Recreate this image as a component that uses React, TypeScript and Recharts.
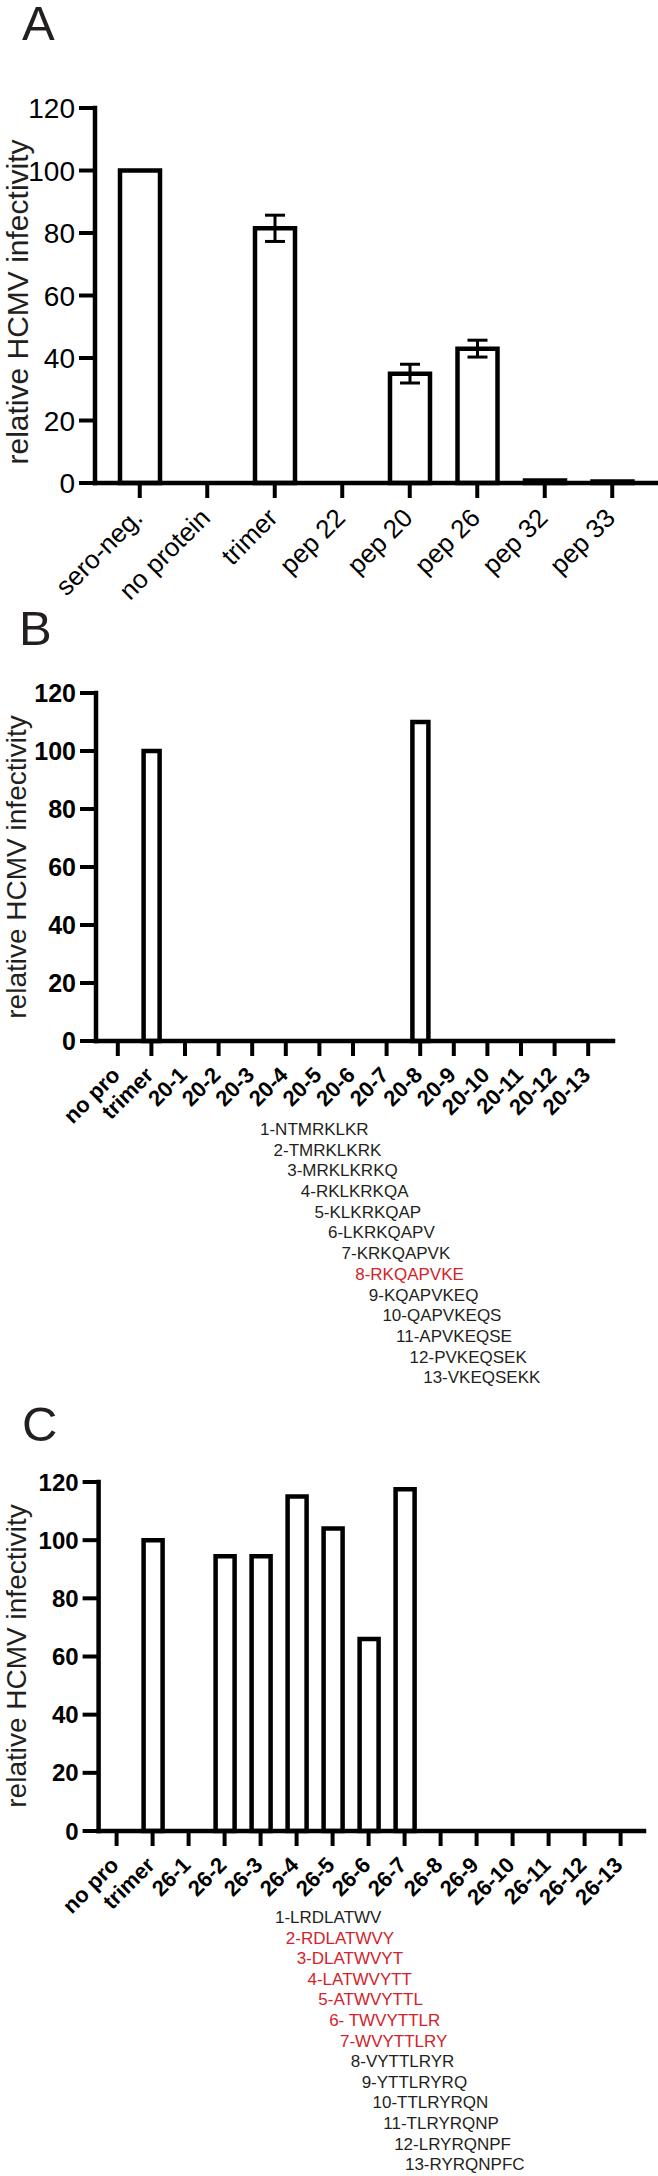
import React from 'react';
import { BarChart, Bar, XAxis, YAxis, ErrorBar } from 'recharts';

const FONT = '"Liberation Sans", Arial, Helvetica, sans-serif';
const INK = '#231f20';
const RED = '#d2232a';

// panel A – screening of peptides
const catsA = ['sero-neg.', 'no protein', 'trimer', 'pep 22', 'pep 20', 'pep 26', 'pep 32', 'pep 33'];
const valsA = [100, 0, 81.5, 0, 35, 43, 0.8, 0.5];
const errA = [0, 0, 4.2, 0, 3, 2.7, 0, 0];

// panel B – pep 20 truncations
const catsB = ['no pro', 'trimer', '20-1', '20-2', '20-3', '20-4', '20-5', '20-6', '20-7', '20-8', '20-9', '20-10', '20-11', '20-12', '20-13'];
const valsB = [0, 100, 0, 0, 0, 0, 0, 0, 0, 110, 0, 0, 0, 0, 0];
const peptidesB = ['1-NTMRKLKR', '2-TMRKLKRK', '3-MRKLKRKQ', '4-RKLKRKQA', '5-KLKRKQAP', '6-LKRKQAPV', '7-KRKQAPVK', '8-RKQAPVKE', '9-KQAPVKEQ', '10-QAPVKEQS', '11-APVKEQSE', '12-PVKEQSEK', '13-VKEQSEKK'];
const redB = ['8-RKQAPVKE'];

// panel C – pep 26 truncations
const catsC = ['no pro', 'trimer', '26-1', '26-2', '26-3', '26-4', '26-5', '26-6', '26-7', '26-8', '26-9', '26-10', '26-11', '26-12', '26-13'];
const valsC = [0, 100, 0, 94.5, 94.5, 115, 104, 66, 117.5, 0, 0, 0, 0, 0, 0];
const peptidesC = ['1-LRDLATWV', '2-RDLATWVY', '3-DLATWVYT', '4-LATWVYTT', '5-ATWVYTTL', '6- TWVYTTLR', '7-WVYTTLRY', '8-VYTTLRYR', '9-YTTLRYRQ', '10-TTLRYRQN', '11-TLRYRQNP', '12-LRYRQNPF', '13-RYRQNPFC'];
const redC = ['2-RDLATWVY', '3-DLATWVYT', '4-LATWVYTT', '5-ATWVYTTL', '6- TWVYTTLR', '7-WVYTTLRY'];

const yTicks = [0, 20, 40, 60, 80, 100, 120];
const yTitle = 'relative HCMV infectivity';

const dataA = catsA.map((name, i) => ({ name, value: valsA[i], err: errA[i] }));
const dataB = catsB.map((name, i) => ({ name, value: valsB[i] }));
const dataC = catsC.map((name, i) => ({ name, value: valsC[i] }));

const YTick = (props: any) => {
  const { x, y, payload, size, weight } = props;
  return (
    <text x={x} y={y} dy="0.36em" textAnchor="end" fontSize={size} fontWeight={weight} fontFamily={FONT} fill="#000">
      {payload.value}
    </text>
  );
};

const XTick = (props: any) => {
  const { x, y, payload, size, weight } = props;
  const ax = x - 2;
  const ay = y + 13;
  return (
    <text x={ax} y={ay} dy="0.35em" textAnchor="end" transform={`rotate(-45 ${ax} ${ay})`}
      fontSize={size} fontWeight={weight} fontFamily={FONT} fill="#000">
      {payload.value}
    </text>
  );
};

const axisLine = { stroke: '#000', strokeWidth: 4.5, strokeLinecap: 'square' as const };
const tickLine = { stroke: '#000', strokeWidth: 4 };

const Panel = ({ top, height, data, margin, yWidth, pad, barSize, yFont, yWeight, xFont, xWeight, children }: any) => (
  <div style={{ position: 'absolute', left: 0, top }}>
    <BarChart width={658} height={height} data={data} margin={margin} barCategoryGap={0}>
      <XAxis dataKey="name" interval={0} height={80} padding={pad} tickSize={15} tickMargin={2}
        axisLine={axisLine} tickLine={tickLine}
        tick={(p: any) => <XTick {...p} size={xFont} weight={xWeight} />} />
      <YAxis domain={[0, 120]} ticks={yTicks} interval={0} width={yWidth} tickSize={16} tickMargin={4}
        axisLine={axisLine} tickLine={tickLine}
        tick={(p: any) => <YTick {...p} size={yFont} weight={yWeight} />} />
      <Bar dataKey="value" fill="#fff" stroke="#000" strokeWidth={4.5} barSize={barSize} isAnimationActive={false}>
        {children}
      </Bar>
    </BarChart>
  </div>
);

const PeptideList = ({ items, red, x0, dx, y0, dy }: any) => (
  <>
    {items.map((t: string, i: number) => (
      <text key={t} x={x0 + dx * i} y={y0 + dy * i} dy="0.35em" fontSize={17} fontFamily={FONT}
        fill={red.includes(t) ? RED : INK} style={{ whiteSpace: 'pre' }}>
        {t}
      </text>
    ))}
  </>
);

const Title = ({ x, y, size }: any) => (
  <text x={x} y={y} textAnchor="middle" transform={`rotate(-90 ${x} ${y})`} fontSize={size} fontFamily={FONT} fill={INK}>
    {yTitle}
  </text>
);

export default function App() {
  return (
    <div style={{ position: 'absolute', left: 0, top: 0, width: 658, height: 2176, background: '#fff', overflow: 'hidden' }}>
      <Panel top={0} height={620} data={dataA} margin={{ top: 108, right: 1, bottom: 57, left: 0 }}
        yWidth={95} pad={{ left: 11, right: 11 }} barSize={40} yFont={28} yWeight="normal" xFont={26} xWeight="normal">
        <ErrorBar dataKey="err" width={10} stroke="#000" strokeWidth={3} isAnimationActive={false} />
      </Panel>
      <Panel top={600} height={530} data={dataB} margin={{ top: 93, right: 45, bottom: 9, left: 0 }}
        yWidth={96} pad={{ left: 5, right: 8 }} barSize={16} yFont={25} yWeight="bold" xFont={22} xWeight="bold" />
      <Panel top={1400} height={520} data={dataC} margin={{ top: 82, right: 14, bottom: 9, left: 0 }}
        yWidth={98.6} pad={{ left: 0, right: 5.4 }} barSize={19} yFont={24} yWeight="bold" xFont={22} xWeight="bold" />
      <svg width={658} height={2176} style={{ position: 'absolute', left: 0, top: 0, pointerEvents: 'none' }}>
        <text x={22} y={40} fontSize={49} fontFamily={FONT} fill={INK}>A</text>
        <text x={19} y={645} fontSize={49} fontFamily={FONT} fill={INK}>B</text>
        <text x={22} y={1441} fontSize={49} fontFamily={FONT} fill={INK}>C</text>
        <Title x={28} y={302} size={30} />
        <Title x={26} y={867} size={28} />
        <Title x={26} y={1656} size={28} />
        <PeptideList items={peptidesB} red={redB} x0={260} dx={13.6} y0={1129} dy={20.7} />
        <PeptideList items={peptidesC} red={redC} x0={275} dx={10.83} y0={1917} dy={20.6} />
      </svg>
    </div>
  );
}
